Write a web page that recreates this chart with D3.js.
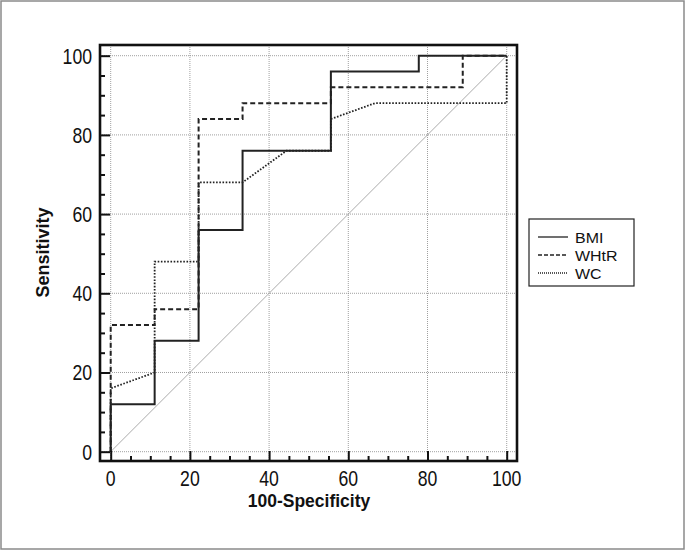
<!DOCTYPE html>
<html>
<head>
<meta charset="utf-8">
<script src="https://cdn.jsdelivr.net/npm/d3@7"></script>
<style>
  body { margin: 0; background: #fff; }
  text { font-family: "Liberation Sans", Arial, sans-serif; }
</style>
</head>
<body>
<div id="canvas"></div>
<script>
const width = 686;
const height = 551;

// ROC curve points (100-Specificity, Sensitivity)
const bmiX = [0, 0, 11.1, 11.1, 22.2, 22.2, 33.3, 33.3, 55.6, 55.6, 77.8, 77.8, 100];
const bmiY = [0, 12, 12, 28, 28, 56, 56, 76, 76, 96, 96, 100, 100];
const whtrX = [0, 0, 11.1, 11.1, 22.2, 22.2, 33.3, 33.3, 55.6, 55.6, 88.9, 88.9, 100];
const whtrY = [0, 32, 32, 36, 36, 84, 84, 88, 88, 92, 92, 100, 100];
const wcX = [0, 0, 11.1, 11.1, 22.2, 22.2, 33.3, 44.4, 55.6, 55.6, 66.7, 100, 100];
const wcY = [0, 16, 20, 48, 48, 68, 68, 76, 76, 84, 88, 88, 100];
const seriesNames = ["BMI", "WHtR", "WC"];
const tickValues = [0, 20, 40, 60, 80, 100];

const series = [
    { name: seriesNames[0], xs: bmiX, ys: bmiY, dash: null, w: 2 },
    { name: seriesNames[1], xs: whtrX, ys: whtrY, dash: "5,3", w: 2 },
    { name: seriesNames[2], xs: wcX, ys: wcY, dash: "1.6,1.6", w: 1.8 }
];

const svg = d3.select("#canvas")
    .append("svg")
    .attr("width", width)
    .attr("height", height);

// outer border
svg.append("rect")
    .attr("x", 1).attr("y", 1)
    .attr("width", width - 3).attr("height", height - 3)
    .attr("fill", "#fff")
    .attr("stroke", "#8a8a8a")
    .attr("stroke-width", 1.5);

const pLeft = 100, pRight = 517, pTop = 45, pBottom = 461;

const x = d3.scaleLinear().domain([-2.7, 102.6]).range([pLeft, pRight]);
const y = d3.scaleLinear().domain([-2.35, 102.7]).range([pBottom, pTop]);

// grid
const grid = svg.append("g");
tickValues.forEach(v => {
    grid.append("line")
        .attr("x1", x(v)).attr("x2", x(v))
        .attr("y1", pTop).attr("y2", pBottom)
        .attr("stroke", "#888").attr("stroke-width", 0.8)
        .attr("stroke-dasharray", "1,1");
    grid.append("line")
        .attr("y1", y(v)).attr("y2", y(v))
        .attr("x1", pLeft).attr("x2", pRight)
        .attr("stroke", "#888").attr("stroke-width", 0.8)
        .attr("stroke-dasharray", "1,1");
});

// diagonal reference
svg.append("line")
    .attr("x1", x(0)).attr("y1", y(0))
    .attr("x2", x(100)).attr("y2", y(100))
    .attr("stroke", "#aaa").attr("stroke-width", 1);

// curves
const line = d3.line().x(d => x(d[0])).y(d => y(d[1]));
series.forEach(s => {
    const pts = s.xs.map((v, i) => [v, s.ys[i]]);
    svg.append("path")
        .attr("d", line(pts))
        .attr("fill", "none")
        .attr("stroke", "#222")
        .attr("stroke-width", s.w)
        .attr("stroke-dasharray", s.dash);
});

// frame
svg.append("rect")
    .attr("x", pLeft).attr("y", pTop)
    .attr("width", pRight - pLeft).attr("height", pBottom - pTop)
    .attr("fill", "none")
    .attr("stroke", "#111")
    .attr("stroke-width", 2.6);

// axes with inward ticks
const minor = d3.range(0, 101, 5).filter(v => v % 20 !== 0);
const xAxis = svg.append("g").attr("transform", `translate(0,${pBottom})`)
    .call(d3.axisTop(x).tickValues(tickValues).tickSize(10).tickFormat(""));
const xMinor = svg.append("g").attr("transform", `translate(0,${pBottom})`)
    .call(d3.axisTop(x).tickValues(minor).tickSize(5).tickFormat(""));
const yAxis = svg.append("g").attr("transform", `translate(${pLeft},0)`)
    .call(d3.axisRight(y).tickValues(tickValues).tickSize(10).tickFormat(""));
const yMinor = svg.append("g").attr("transform", `translate(${pLeft},0)`)
    .call(d3.axisRight(y).tickValues(minor).tickSize(5).tickFormat(""));
[xAxis, xMinor, yAxis, yMinor].forEach(g => {
    g.select(".domain").remove();
    g.selectAll("line").attr("stroke", "#111").attr("stroke-width", 2);
});

// tick labels (narrow face: regular font squeezed horizontally)
tickValues.forEach(v => {
    svg.append("text")
        .attr("transform", `translate(${x(v)},485.5) scale(0.82,1)`)
        .attr("text-anchor", "middle")
        .attr("font-size", "21.5px")
        .attr("fill", "#111")
        .text(v);
    svg.append("text")
        .attr("transform", `translate(92,${y(v) + 8}) scale(0.82,1)`)
        .attr("text-anchor", "end")
        .attr("font-size", "21.5px")
        .attr("fill", "#111")
        .text(v);
});

// axis titles
svg.append("text")
    .attr("x", 309).attr("y", 507)
    .attr("text-anchor", "middle")
    .attr("font-size", "17.5px")
    .attr("font-weight", "bold")
    .attr("fill", "#111")
    .text("100-Specificity");

svg.append("text")
    .attr("transform", `translate(49,252.5) rotate(-90)`)
    .attr("text-anchor", "middle")
    .attr("font-size", "18px")
    .attr("font-weight", "bold")
    .attr("fill", "#111")
    .text("Sensitivity");

// legend
const legend = svg.append("g");
legend.append("rect")
    .attr("x", 529).attr("y", 219)
    .attr("width", 105).attr("height", 67)
    .attr("fill", "#fff")
    .attr("stroke", "#222")
    .attr("stroke-width", 1.2);
series.forEach((s, i) => {
    const base = 243 + i * 18;
    legend.append("line")
        .attr("x1", 538).attr("x2", 568)
        .attr("y1", base - 6).attr("y2", base - 6)
        .attr("stroke", "#222")
        .attr("stroke-width", 1.3)
        .attr("stroke-dasharray", s.dash === null ? null : (i === 1 ? "4,2" : "1,1"));
    legend.append("text")
        .attr("transform", `translate(575,${base}) scale(1.03,1)`)
        .attr("font-size", "15.5px")
        .attr("fill", "#111")
        .text(s.name);
});
</script>
</body>
</html>
